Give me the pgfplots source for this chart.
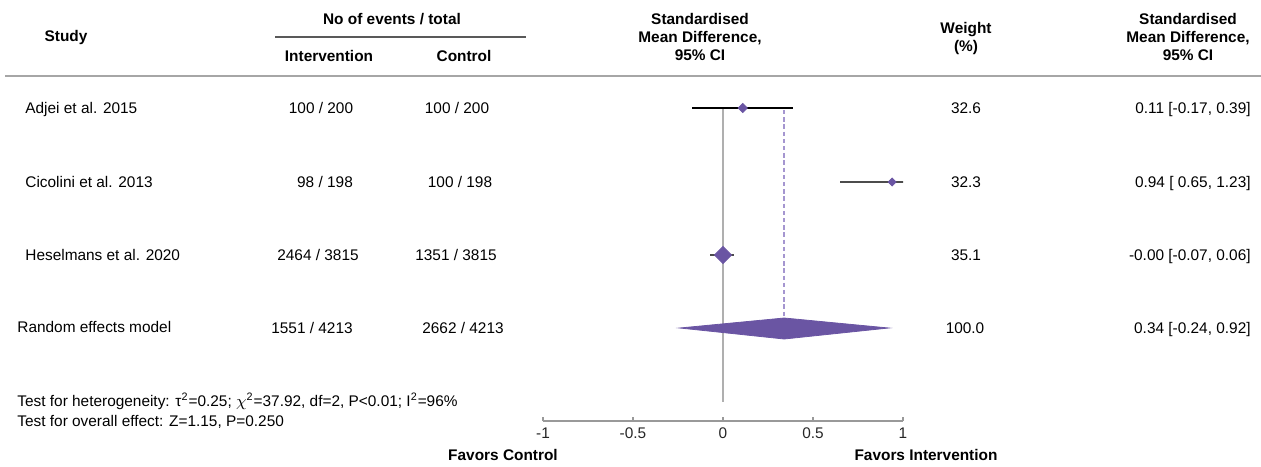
\documentclass[border=0pt]{standalone}
\usepackage{fontspec}
\setmainfont{Liberation Sans}
\usepackage{pgfplots}
\pgfplotsset{compat=1.18}
\definecolor{smd}{RGB}{106,85,163}
\definecolor{smdlight}{RGB}{165,150,208}
\definecolor{refline}{RGB}{175,175,175}

\begin{document}
\begin{tikzpicture}[font=\fontsize{7.7}{9}\selectfont,
  t/.style={inner sep=0pt, text height=5.5pt, text depth=0pt},
  h/.style={t, font=\fontsize{7.7}{9}\selectfont\bfseries}]
\useasboundingbox (0,0) rectangle (630.5pt,-233pt);

% all text placed in pixel units of the reference (1 px = 0.5pt, y downwards)
\begin{scope}[x=0.5pt,y=-0.5pt]
% header
\draw[black!35, line width=0.9pt] (5,76) -- (1261,76);
\draw[black!65, line width=0.6pt] (275,37) -- (526,37);
\node[h] at (66,36) {Study};
\node[h] at (392,19) {No of events / total};
\node[h] at (329,56) {Intervention};
\node[h] at (464,56) {Control};
\node[h] at (700,19) {Standardised};
\node[h] at (700,37) {Mean Difference,};
\node[h] at (700,55) {95\% CI};
\node[h] at (966,28) {Weight};
\node[h] at (966,46) {(\%)};
\node[h] at (1188,19) {Standardised};
\node[h] at (1188,37) {Mean Difference,};
\node[h] at (1188,55) {95\% CI};

% study rows
\node[t, anchor=west] at (25,108) {Adjei et al. 2015};
\node[t, anchor=west] at (25,182) {Cicolini et al. 2013};
\node[t, anchor=west] at (25,255) {Heselmans et al. 2020};
\node[t, anchor=west] at (17,327) {Random effects model};

\node[t] at (321,108) {100 / 200};
\node[t] at (325,182) {98 / 198};
\node[t] at (318,255) {2464 / 3815};
\node[t] at (312,328) {1551 / 4213};

\node[t] at (457,108) {100 / 200};
\node[t] at (460,182) {100 / 198};
\node[t] at (456,255) {1351 / 3815};
\node[t] at (463,328) {2662 / 4213};

\node[t] at (966,108) {32.6};
\node[t] at (966,182) {32.3};
\node[t] at (966,255) {35.1};
\node[t] at (965,328) {100.0};

\node[t, anchor=east] at (1251,108) {0.11 [-0.17, 0.39]};
\node[t, anchor=east] at (1251,182) {0.94 [ 0.65, 1.23]};
\node[t, anchor=east] at (1251,255) {-0.00 [-0.07, 0.06]};
\node[t, anchor=east] at (1251,328) {0.34 [-0.24, 0.92]};

% footnote
\node[t, anchor=west] at (17,401) {Test for heterogeneity: τ\textsuperscript{2}=0.25; $\chi$\textsuperscript{2}=37.92, df=2, P<0.01; I\textsuperscript{2}=96\%};
\node[t, anchor=west] at (17,421) {Test for overall effect: Z=1.15, P=0.250};

\node[h] at (503,455) {Favors Control};
\node[h] at (926,455) {Favors Intervention};
\end{scope}

\begin{axis}[
  at={(271.5pt,-210.5pt)}, anchor=south west,
  x=90pt, y=0.5pt,
  xmin=-1, xmax=1, ymin=45, ymax=386,
  axis x line=bottom, axis y line=none,
  axis line style={-, black!40, line width=0.7pt},
  xtick={-1,-0.5,0,0.5,1},
  tick align=inside,
  major tick length=2pt,
  tick style={black!40, line width=0.7pt},
  xticklabel style={font=\fontsize{7.7}{9}\selectfont, text=black!85},
  /pgf/number format/assume math mode=true,
  clip mode=individual,
]
% reference line and summary estimate
\addplot[refline, line width=0.8pt] coordinates {(0,357) (0,64)};
\addplot[smdlight, line width=0.8pt, dash pattern=on 2.2pt off 1.4pt] coordinates {(0.34,356) (0.34,148)};

% confidence intervals
\addplot[black, line width=0.8pt] coordinates {(-0.17,358) (0.39,358)};
\addplot[black!70, line width=0.6pt] coordinates {(0.65,284) (1.23,284)};
\addplot[black!70, line width=0.6pt] coordinates {(-0.07,211) (0.06,211)};

% study estimates
\addplot[only marks, mark=square*, mark size=1.6pt, mark options={rotate=45, fill=smd, draw=smd}] coordinates {(0.11,358)};
\addplot[only marks, mark=square*, mark size=1.4pt, mark options={rotate=45, fill=smd, draw=smd}] coordinates {(0.94,284)};
\addplot[only marks, mark=square*, mark size=3pt, mark options={rotate=45, fill=smd, draw=smd}] coordinates {(0,211)};

% pooled estimate
\addplot[fill=smd, draw=smd] coordinates {(-0.24,138) (0.34,148) (0.92,138) (0.34,127)} -- cycle;
\end{axis}
\end{tikzpicture}
\end{document}
